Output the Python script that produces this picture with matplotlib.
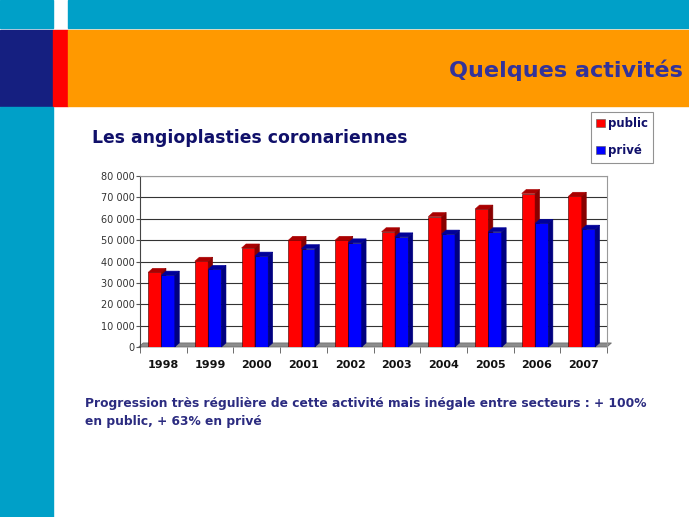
import matplotlib
matplotlib.use("Agg")
import matplotlib.pyplot as plt
from matplotlib.patches import Rectangle, Polygon, Patch
import numpy as np

years = ["1998", "1999", "2000", "2001", "2002", "2003", "2004", "2005", "2006", "2007"]
public = [34900, 40100, 46300, 49900, 49900, 53900, 61000, 64500, 71800, 70500]
prive = [33600, 36300, 42500, 46000, 48700, 51500, 52800, 53900, 57800, 55100]
yticks = [0, 10000, 20000, 30000, 40000, 50000, 60000, 70000, 80000]
ytick_labels = ["0", "10 000", "20 000", "30 000", "40 000", "50 000", "60 000", "70 000", "80 000"]

W, H = 689, 517
fig = plt.figure(figsize=(W / 100, H / 100), dpi=100)
fig.patch.set_facecolor("white")

def frect(x0, y0, x1, y1, color):
    # pixel coords (top-left origin) -> figure coords
    fig.patches.append(Rectangle((x0 / W, 1 - y1 / H), (x1 - x0) / W, (y1 - y0) / H,
                                 transform=fig.transFigure, color=color, zorder=0))

teal = "#00a0c8"
frect(0, 0, 53, 28, teal)
frect(68, 0, W, 28, teal)
frect(0, 30, 53, 106, "#151f80")
frect(53, 30, 68, 106, "#ff0000")
frect(68, 30, W, 106, "#ff9900")
frect(0, 107, 53, H, teal)

fig.text(683 / W, 1 - 70 / H, "Quelques activités", ha="right", va="center",
         fontsize=16.1, fontweight="bold", color="#33339a", family="DejaVu Sans")
fig.text(92 / W, 1 - 138 / H, "Les angioplasties coronariennes", ha="left", va="center",
         fontsize=12.4, fontweight="bold", color="#10106a", family="DejaVu Sans")
fig.text(85 / W, 1 - 404 / H,
         "Progression très régulière de cette activité mais inégale entre secteurs : + 100%",
         ha="left", va="center", fontsize=8.8, fontweight="bold", color="#2b2b80")
fig.text(85 / W, 1 - 422 / H, "en public, + 63% en privé",
         ha="left", va="center", fontsize=8.8, fontweight="bold", color="#2b2b80")

ax = fig.add_axes([140 / W, 1 - 347 / H, (607 - 140) / W, (347 - 176) / H])
ax.set_xlim(-0.5, len(years) - 0.5)
ax.set_ylim(0, 80000)
ax.set_facecolor("white")

x = np.arange(len(years))
bw = 0.285
dx = 0.096
dy = 1900
shift = -0.04

# floor
floor = Polygon([(-0.5 - dx * 0.3, 0), (len(years) - 0.5, 0),
                 (len(years) - 0.5 + dx, dy), (-0.5 + dx * 0.7, dy)],
                closed=True, facecolor="#8c8c8c", edgecolor="#666666", lw=0.5,
                clip_on=False, zorder=2)
ax.add_patch(floor)

def bar3d(xl, vals, face, top, side, edge, z):
    bars = ax.bar(xl, vals, width=bw, align="edge", color=face, edgecolor=edge,
                  linewidth=0.4, zorder=z)
    for b in bars:
        x0 = b.get_x()
        w = b.get_width()
        v = b.get_height()
        ax.add_patch(Polygon([(x0, v), (x0 + w, v), (x0 + w + dx, v + dy), (x0 + dx, v + dy)],
                             closed=True, facecolor=top, edgecolor=top, lw=0.4, zorder=z, clip_on=False))
        ax.add_patch(Polygon([(x0 + w, 0), (x0 + w, v), (x0 + w + dx, v + dy), (x0 + w + dx, dy)],
                             closed=True, facecolor=side, edgecolor=side, lw=0.4, zorder=z, clip_on=False))
    return bars

bar3d(x - bw + shift, public, "#ff0000", "#aa0000", "#880000", "#300000", 4)
bar3d(x + shift, prive, "#0000ff", "#000099", "#000080", "#000030", 5)

ax.set_yticks(yticks)
ax.set_yticklabels(ytick_labels, fontsize=7, color="#333333")
ax.grid(axis="y", color="#333333", linewidth=0.8, zorder=1)
ax.set_axisbelow(True)
ax.set_xticks(x)
ax.set_xticklabels(years, fontsize=8, fontweight="bold", color="#111111")
ax.tick_params(axis="x", length=0, pad=9)
ax.set_xticks(np.arange(-0.5, len(years)), minor=True)
ax.tick_params(axis="x", which="minor", length=4, color="#555555", direction="out", pad=6)
ax.tick_params(axis="y", length=3, color="#555555", pad=1)
for s in ["top", "right"]:
    ax.spines[s].set_color("#999999")
    ax.spines[s].set_linewidth(0.8)
ax.spines["left"].set_color("#444444")
ax.spines["bottom"].set_visible(False)

handles = [Patch(facecolor="#ff0000", edgecolor="#555555", lw=0.4, label="public"),
           Patch(facecolor="#0000ff", edgecolor="#555555", lw=0.4, label="privé")]
leg = fig.legend(handles=handles, loc="upper left", bbox_to_anchor=(591 / W, 1 - 112 / H),
                 frameon=True, fancybox=False, edgecolor="#777777", handlelength=0.7,
                 handleheight=0.7, handletextpad=0.3, borderpad=0.45, labelspacing=1.2,
                 borderaxespad=0, prop={"weight": "bold", "size": 8.5})
for t in leg.get_texts():
    t.set_color("#10106a")
leg.get_frame().set_linewidth(0.8)

fig.savefig("out.png", dpi=100, facecolor="white")
